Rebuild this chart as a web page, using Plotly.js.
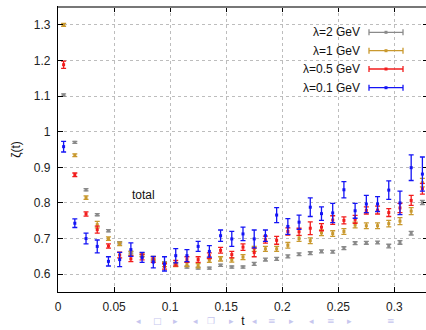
<!DOCTYPE html>
<html>
<head>
<meta charset="utf-8">
<script src="https://cdn.plot.ly/plotly-3.0.1.min.js"></script>
<style>
html, body { margin:0; padding:0; overflow:hidden; background:#fff; }
#chart { width:428px; height:330px; }
</style>
</head>
<body>
<div id="chart"></div>
<script>
const t = [0.005,0.015,0.025,0.035,0.045,0.055,0.065,0.075,0.085,0.095,0.105,0.115,0.125,0.135,0.145,0.155,0.165,0.175,0.185,0.195,0.205,0.215,0.225,0.235,0.245,0.255,0.265,0.275,0.285,0.295,0.305,0.315,0.325];

const lam2 = [1.103,0.970,0.837,0.767,0.722,0.688,0.660,0.652,0.640,0.632,0.625,0.620,0.617,0.617,0.625,0.620,0.620,0.629,0.641,0.643,0.650,0.656,0.659,0.664,0.663,0.673,0.687,0.688,0.689,0.679,0.689,0.715,0.801];
const lam2Err = [0.003,0.003,0.003,0.003,0.003,0.003,0.003,0.003,0.003,0.003,0.003,0.003,0.003,0.003,0.003,0.003,0.003,0.004,0.004,0.004,0.004,0.004,0.004,0.004,0.004,0.004,0.004,0.004,0.004,0.005,0.005,0.005,0.006];

const lam1 = [1.300,0.934,0.815,0.739,0.700,0.685,0.659,0.655,0.645,0.627,0.627,0.627,0.624,0.639,0.643,0.640,0.648,0.671,0.671,0.671,0.681,0.700,0.694,0.716,0.714,0.720,0.738,0.736,0.736,0.742,0.749,0.777,0.857];
const lam1Err = [0.004,0.004,0.005,0.009,0.005,0.005,0.006,0.005,0.005,0.006,0.006,0.006,0.006,0.006,0.006,0.006,0.007,0.007,0.007,0.007,0.008,0.008,0.008,0.008,0.008,0.008,0.008,0.008,0.008,0.009,0.010,0.010,0.012];

const lam05 = [1.188,0.879,0.769,0.725,0.679,0.654,0.643,0.648,0.641,0.622,0.631,0.641,0.641,0.652,0.667,0.655,0.676,0.661,0.697,0.695,0.720,0.719,0.729,0.732,0.752,0.751,0.754,0.779,0.780,0.773,0.786,0.807,0.840];
const lam05Err = [0.010,0.005,0.006,0.010,0.006,0.008,0.008,0.008,0.008,0.008,0.008,0.008,0.008,0.008,0.008,0.009,0.009,0.012,0.010,0.011,0.010,0.010,0.018,0.010,0.012,0.010,0.011,0.010,0.011,0.011,0.013,0.014,0.015];

const lam01 = [0.958,0.743,0.700,0.678,0.636,0.641,0.669,0.647,0.634,0.629,0.652,0.652,0.678,0.664,0.708,0.699,0.713,0.699,0.708,0.766,0.734,0.746,0.788,0.770,0.772,0.837,0.778,0.797,0.797,0.836,0.800,0.899,0.881];
const lam01Err = [0.015,0.012,0.015,0.018,0.013,0.020,0.019,0.014,0.016,0.020,0.020,0.017,0.014,0.016,0.016,0.021,0.019,0.025,0.016,0.021,0.022,0.020,0.026,0.019,0.027,0.023,0.021,0.024,0.021,0.026,0.033,0.036,0.048];

const seriesNames = ['λ=2 GeV','λ=1 GeV','λ=0.5 GeV','λ=0.1 GeV'];
const seriesColors = ['#8a8a8a','#c9992e','#f21c1c','#1414f5'];
const seriesY = [lam2, lam1, lam05, lam01];
const seriesErr = [lam2Err, lam1Err, lam05Err, lam01Err];

const navSymbols = ['◂','□','▸','◂','❐','▸','◂','≡','▸','◂','≡','▸','≡'];
const navPx = [138,157,175,195,211,231,254,272,291,311,331,349,391];

const font = 'Liberation Sans, Arial, Helvetica, sans-serif';

const traces = seriesNames.map((name, i) => ({
  type: 'scatter',
  mode: 'markers',
  name: name,
  x: t,
  y: seriesY[i],
  error_y: { type: 'data', array: seriesErr[i], visible: true, color: seriesColors[i], thickness: 1.3, width: 2.5 },
  marker: { symbol: 'square', size: 3, color: seriesColors[i] },
  cliponaxis: false,
  showlegend: false
}));

// geometry helpers for the hand-built legend (paper coordinates)
const L = 58, W = 370, T = 7, H = 285;
const px2x = px => (px - L) / W;
const py2y = py => (T + H - py) / H;

const shapes = [];
const annotations = [];

// white legend box
shapes.push({ type:'rect', xref:'paper', yref:'paper', x0:px2x(300), x1:px2x(408), y0:py2y(98), y1:py2y(23), fillcolor:'#ffffff', line:{width:0}, layer:'between' });
// grey top border
shapes.push({ type:'line', xref:'paper', yref:'paper', x0:0, x1:1, y0:1, y1:1, line:{color:'#777777', width:2} });

const rowPy = [32.3, 50.7, 69.0, 87.7];
seriesNames.forEach((name, i) => {
  const yy = py2y(rowPy[i]);
  const dy = 3 / H;
  const c = seriesColors[i];
  shapes.push({ type:'line', xref:'paper', yref:'paper', x0:px2x(369), x1:px2x(403), y0:yy, y1:yy, line:{color:c, width:1.3} });
  shapes.push({ type:'line', xref:'paper', yref:'paper', x0:px2x(369), x1:px2x(369), y0:yy-dy, y1:yy+dy, line:{color:c, width:1.3} });
  shapes.push({ type:'line', xref:'paper', yref:'paper', x0:px2x(403), x1:px2x(403), y0:yy-dy, y1:yy+dy, line:{color:c, width:1.3} });
  shapes.push({ type:'rect', xref:'paper', yref:'paper', x0:px2x(384.5), x1:px2x(387.5), y0:yy-1.5/H, y1:yy+1.5/H, fillcolor:c, line:{width:0} });
  annotations.push({ xref:'paper', yref:'paper', x:px2x(362), y:yy, xanchor:'right', yanchor:'middle', text:name, showarrow:false, font:{family:font, size:12, color:'#111'} });
});

annotations.push({ xref:'x', yref:'y', x:0.0765, y:0.823, text:'total', showarrow:false, font:{family:font, size:12, color:'#111'} });

navSymbols.forEach((s, i) => {
  annotations.push({ xref:'paper', yref:'paper', x:px2x(navPx[i]), y:py2y(321), xanchor:'center', yanchor:'middle', text:s, showarrow:false, font:{family:'DejaVu Sans', size:9, color:'#c6c6ee'} });
});

const axisCommon = {
  ticks: 'inside', ticklen: 5, tickwidth: 1, tickcolor: '#000',
  showline: true, linecolor: '#000', linewidth: 1.2, mirror: 'ticks',
  showgrid: true, gridcolor: '#bdbdbd', griddash: 'dot', gridwidth: 1,
  zeroline: false,
  tickfont: { family: font, size: 12, color: '#222' }
};

const layout = {
  width: 428, height: 330,
  margin: { l: L, r: 0, t: T, b: 38 },
  paper_bgcolor: '#fff', plot_bgcolor: '#fff',
  showlegend: false,
  xaxis: Object.assign({}, axisCommon, {
    range: [0, 0.33], tick0: 0, dtick: 0.05,
    ticklabelstandoff: 3,
    title: { text: 't', font: { family: font, size: 12, color: '#111' }, standoff: 4 }
  }),
  yaxis: Object.assign({}, axisCommon, {
    range: [0.55, 1.35], tick0: 0, dtick: 0.1,
    ticklabelstandoff: 4,
    title: { text: 'ζ(t)', font: { family: font, size: 12, color: '#111' }, standoff: 10 }
  }),
  shapes: shapes,
  annotations: annotations
};

Plotly.newPlot('chart', traces, layout, { displayModeBar: false, staticPlot: true });
</script>
</body>
</html>
